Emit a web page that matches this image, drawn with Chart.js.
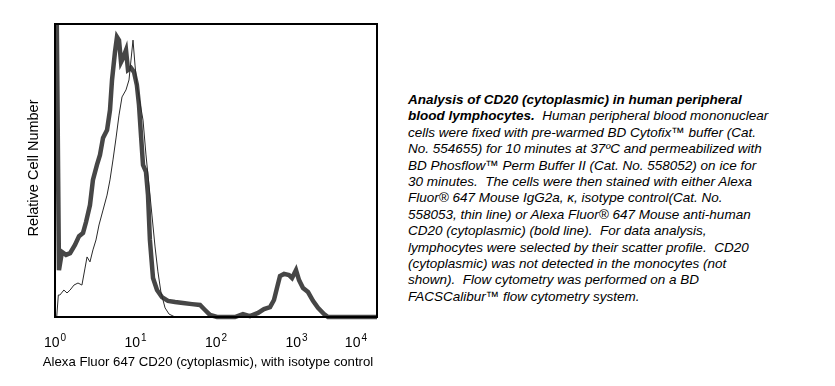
<!DOCTYPE html>
<html>
<head>
<meta charset="utf-8">
<script src="https://cdn.jsdelivr.net/npm/chart.js@4"></script>
<style>
  body { margin: 0; background: #fff; width: 835px; height: 386px; position: relative; overflow: hidden; }
  #wrap { position: absolute; left: 0; top: 0; width: 400px; height: 386px; }
  #caption {
    position: absolute; left: 408px; top: 92px;
    font-family: "Liberation Sans", Arial, sans-serif; font-style: italic;
    font-size: 13.5px; line-height: 16.4px; color: #000; white-space: nowrap;
  }
  #caption b { font-weight: bold; }
</style>
</head>
<body>
<div id="wrap"><canvas id="histo"></canvas></div>
<div id="caption">
<b>Analysis of CD20 (cytoplasmic) in human peripheral</b><br>
<b>blood lymphocytes.</b>&nbsp; Human peripheral blood mononuclear<br>
cells were fixed with pre-warmed BD Cytofix™ buffer (Cat.<br>
No. 554655) for 10 minutes at 37ºC and permeabilized with<br>
BD Phosflow™ Perm Buffer II (Cat. No. 558052) on ice for<br>
30 minutes.&nbsp; The cells were then stained with either Alexa<br>
Fluor® 647 Mouse IgG2a, κ, isotype control(Cat. No.<br>
558053, thin line) or Alexa Fluor® 647 Mouse anti-human<br>
CD20 (cytoplasmic) (bold line).&nbsp; For data analysis,<br>
lymphocytes were selected by their scatter profile.&nbsp; CD20<br>
(cytoplasmic) was not detected in the monocytes (not<br>
shown).&nbsp; Flow cytometry was performed on a BD<br>
FACSCalibur™ flow cytometry system.
</div>
<script>
// fluorescence channel values and relative counts
const cd20Channel = [1.03, 1.12, 1.22, 1.37, 1.54, 1.77, 1.99, 2.23, 2.43, 2.72, 2.96, 3.32, 3.62, 3.95, 4.43, 4.82,
  5.11, 5.56, 5.89, 6.24, 6.61, 7.0, 7.62, 8.07, 8.79, 9.58, 10.4, 11.05, 11.7, 12.4, 13.5, 14.3, 15.1, 16.5, 18.5,
  21.3, 25.3, 31, 38.9, 50.3, 63.3, 73, 84.2, 103, 172, 216, 264, 333, 395, 469, 525, 572, 624, 700, 807, 880, 986,
  1075, 1205, 1390, 1603, 1849, 2197, 2462, 10000];
const cd20Counts = [130, 16, 22.2, 21.2, 21.8, 24.6, 27.6, 28.7, 32.4, 38.2, 46.8, 51.9, 55.3, 61.1, 63.8, 70.6,
  80.9, 90.4, 95.6, 94.5, 87, 88.4, 91.1, 84.3, 85, 83.6, 79.2, 72.4, 62.1, 51.9, 49.5, 41.6, 26.3, 13.3, 9.2,
  6.8, 5.5, 5.1, 4.8, 4.4, 4.1, 2.4, 0.7, 0, 0, 1, 0.3, 1.4, 2.7, 3.4, 5.8, 9.9, 14, 14.7, 14.3, 13.3, 16,
  12.6, 9.9, 8.5, 5.5, 3.1, 1, 0, 0];

const isoChannel = [1.05, 1.1, 1.15, 1.29, 1.41, 1.54, 1.72, 1.93, 2.16, 2.36, 2.5, 2.72, 2.96, 3.23, 3.52, 3.95,
  4.43, 4.82, 5.25, 5.73, 6.24, 6.8, 7.62, 8.3, 8.79, 9.31, 9.86, 10.4, 11.4, 12.4, 13.5, 14.7, 16, 17.5, 19,
  20.7, 23.3, 26.1, 31, 10000];
const isoCounts = [0, 7.5, 7.5, 9.2, 8.2, 9.2, 10.9, 11.6, 10.9, 16.7, 20.5, 18.8, 22.9, 26.3, 31.4, 36.5,
  41.6, 46.8, 53.6, 61.1, 68.9, 75.1, 77.5, 80.9, 87.7, 94.5, 86, 79.2, 73, 67.2, 55.3, 45.1, 34.8, 23.9, 15.4,
  8.5, 3.1, 1, 0, 0];

const tickValues = [1, 10, 100, 1000, 10000];
const tickExponents = ['0', '1', '2', '3', '4'];

const xTitle = 'Alexa Fluor 647 CD20 (cytoplasmic), with isotype control';
const yTitle = 'Relative Cell Number';

const FONT = '"Liberation Sans", Arial, sans-serif';

function toPoints(xs, ys) {
  return xs.map((x, i) => ({ x: x, y: ys[i] }));
}

// frame, decade labels with superscripts, axis titles
const decorPlugin = {
  id: 'decor',
  afterDraw(chart) {
    const ctx = chart.ctx;
    const a = chart.chartArea;
    const xs = chart.scales.x;
    ctx.save();
    ctx.strokeStyle = '#000';
    ctx.lineWidth = 2;
    ctx.strokeRect(a.left, a.top, a.right - a.left, a.bottom - a.top);

    ctx.fillStyle = '#000';
    ctx.textBaseline = 'alphabetic';
    ctx.textAlign = 'left';
    tickValues.forEach((v, i) => {
      ctx.font = '14px ' + FONT;
      const baseW = ctx.measureText('10').width;
      ctx.font = '10px ' + FONT;
      const supW = ctx.measureText(tickExponents[i]).width;
      const total = baseW + supW + 1;
      let cx = xs.getPixelForValue(v);
      let left = cx - total / 2;
      if (left + total > a.right - 10) left = a.right - 10 - total;
      ctx.font = '14px ' + FONT;
      ctx.fillText('10', left, 347);
      ctx.font = '10px ' + FONT;
      ctx.fillText(tickExponents[i], left + baseW + 1, 341);
    });

    ctx.font = '13.2px ' + FONT;
    ctx.textAlign = 'center';
    ctx.textBaseline = 'middle';
    ctx.fillText(xTitle, 208, 362);

    ctx.font = '14.5px ' + FONT;
    ctx.translate(34, 168);
    ctx.rotate(-Math.PI / 2);
    ctx.fillText(yTitle, 0, 0);
    ctx.restore();
  }
};

new Chart(document.getElementById('histo'), {
  type: 'line',
  data: {
    datasets: [
      {
        label: 'Isotype control',
        data: toPoints(isoChannel, isoCounts),
        borderColor: '#2a2a2a',
        borderWidth: 1,
        pointRadius: 0,
        tension: 0,
        fill: false,
        clip: { left: 0, top: 0, right: 0, bottom: 2 }
      },
      {
        label: 'CD20 (cytoplasmic)',
        data: toPoints(cd20Channel, cd20Counts),
        borderColor: '#464646',
        borderWidth: 4.5,
        pointRadius: 0,
        tension: 0,
        fill: false,
        clip: { left: 0, top: 0, right: 0, bottom: 3 }
      }
    ]
  },
  options: {
    responsive: true,
    maintainAspectRatio: false,
    animation: false,
    layout: { padding: { left: 55, top: 24, right: 23, bottom: 69 } },
    plugins: { legend: { display: false }, tooltip: { enabled: false } },
    scales: {
      x: { type: 'logarithmic', min: 1, max: 10000, display: false },
      y: { type: 'linear', min: 0, max: 100, display: false }
    }
  },
  plugins: [decorPlugin]
});
</script>
</body>
</html>
